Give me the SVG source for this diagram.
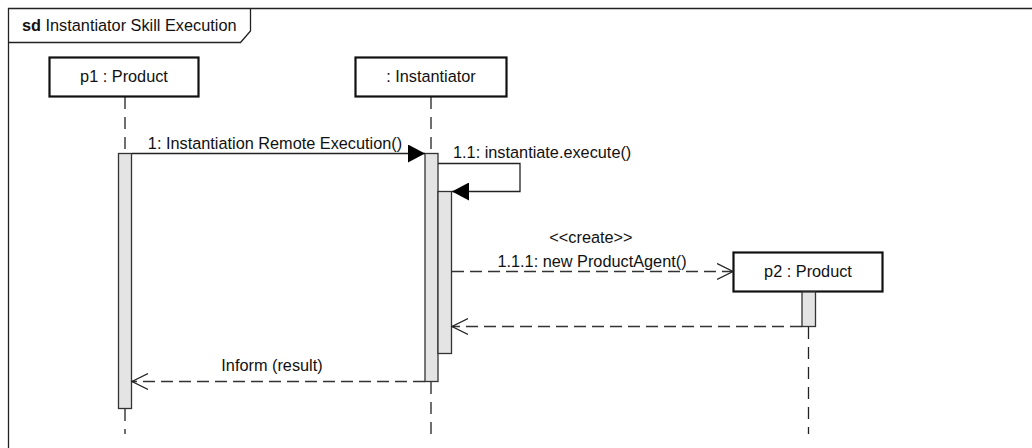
<svg xmlns="http://www.w3.org/2000/svg" width="1032" height="448" viewBox="0 0 1032 448">
  <style>
    text { font-family: "Liberation Sans", Arial, sans-serif; font-size: 16.3px; fill: #111; }
    .frame { fill: none; stroke: #222; stroke-width: 1.3; }
    .head { fill: #fff; stroke: #111; stroke-width: 2.2; }
    .life { stroke: #222; stroke-width: 1.3; stroke-dasharray: 12 8; fill: none; }
    .act { fill: #e4e4e4; stroke: #333; stroke-width: 1.3; }
    .sync { stroke: #222; stroke-width: 1.3; fill: none; }
    .reply { stroke: #333; stroke-width: 1.3; fill: none; stroke-dasharray: 12 6; }
  </style>
  <defs>
    <marker id="filled" markerWidth="18" markerHeight="18" refX="17" refY="9" orient="auto" markerUnits="userSpaceOnUse">
      <path d="M0,0 L17,9 L0,18 Z" fill="#000"/>
    </marker>
    <marker id="open" markerWidth="20" markerHeight="20" refX="16" refY="9" orient="auto" markerUnits="userSpaceOnUse">
      <path d="M0,1 L16,9 L0,17" fill="none" stroke="#222" stroke-width="1.3"/>
    </marker>
  </defs>

  <!-- interaction frame -->
  <g id="frame">
    <path class="frame" d="M8.5,448 V8.5 H1032"/>
    <path class="frame" d="M8.5,42.5 H240.5 L250.5,31 V8.5"/>
    <text x="22" y="31"><tspan font-weight="bold">sd</tspan> Instantiator Skill Execution</text>
  </g>

  <!-- lifeline p1 -->
  <g id="p1">
    <line class="life" x1="125" y1="97" x2="125" y2="153"/>
    <line class="life" x1="125" y1="409" x2="125" y2="434"/>
    <rect class="head" x="49.5" y="57.5" width="149" height="39"/>
    <text x="124" y="82" text-anchor="middle">p1 : Product</text>
    <rect class="act" x="118.5" y="153.5" width="13" height="255"/>
  </g>

  <!-- lifeline instantiator -->
  <g id="instantiator">
    <line class="life" x1="431" y1="97" x2="431" y2="153"/>
    <line class="life" x1="431" y1="382" x2="431" y2="434"/>
    <rect class="head" x="355.5" y="57.5" width="151" height="39"/>
    <text x="431" y="82" text-anchor="middle">: Instantiator</text>
    <rect class="act" x="425" y="153.5" width="13" height="228"/>
    <rect class="act" x="438" y="191.5" width="13.5" height="162"/>
  </g>

  <!-- lifeline p2 (created) -->
  <g id="p2">
    <line class="life" x1="808.5" y1="327" x2="808.5" y2="434"/>
    <rect class="head" x="733.5" y="252.5" width="149" height="39"/>
    <text x="808" y="277" text-anchor="middle">p2 : Product</text>
    <rect class="act" x="802" y="292" width="13.5" height="34.5"/>
  </g>

  <!-- messages -->
  <g id="connectors">
    <line class="sync" x1="132" y1="153.5" x2="425" y2="153.5" marker-end="url(#filled)"/>
    <text x="275" y="149" text-anchor="middle">1: Instantiation Remote Execution()</text>

    <polyline class="sync" points="438,163.5 520,163.5 520,191.5 452,191.5" marker-end="url(#filled)"/>
    <text x="453" y="158">1.1: instantiate.execute()</text>

    <line class="reply" x1="452" y1="271.5" x2="733" y2="271.5" marker-end="url(#open)"/>
    <text x="591" y="243" text-anchor="middle">&lt;&lt;create&gt;&gt;</text>
    <text x="592" y="267" text-anchor="middle">1.1.1: new ProductAgent()</text>

    <line class="reply" x1="802" y1="326.5" x2="452" y2="326.5" marker-end="url(#open)"/>

    <line class="reply" x1="425" y1="381.5" x2="132" y2="381.5" marker-end="url(#open)"/>
    <text x="272" y="371" text-anchor="middle">Inform (result)</text>
  </g>
</svg>
